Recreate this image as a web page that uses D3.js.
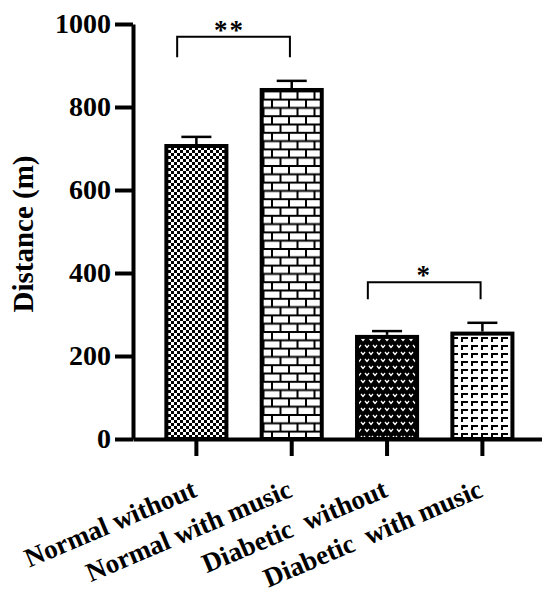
<!DOCTYPE html>
<html lang="en">
<head>
<meta charset="UTF-8">
<title>Distance bar chart</title>
<style>
  body { margin: 0; padding: 0; background: #fff; }
  svg { display: block; }
  svg text { font-family: 'Liberation Serif', 'Times New Roman', Times, 'DejaVu Serif', serif; font-weight: bold; fill: #000; }
</style>
</head>
<body>
<div id="chart"></div>
<script src="https://d3js.org/d3.v7.min.js"></script>
<script>
// values
const groups = ["Normal without", "Normal with music", "Diabetic  without", "Diabetic  with music"];
const means = [706, 841, 246, 254];
const errors = [22, 22, 14, 26];
const yTicks = [0, 200, 400, 600, 800, 1000];
// significance brackets: [from, to, bracket height, leg end, label]
const comparisons = [
    [0, 1, 969, 920, "**"],
    [2, 3, 378, 337, "*"]
];

const width = 542, height = 596;
const serif = "'Liberation Serif', 'Times New Roman', Times, 'DejaVu Serif', serif";

const svg = d3.select("#chart").append("svg")
    .attr("width", width)
    .attr("height", height);

const y = d3.scaleLinear().domain([0, 1000]).range([439, 24]);
const x = d3.scaleBand().domain(groups).range([133, 542])
    .paddingInner(0.37).paddingOuter(0.33).align(0.53);
const bw = x.bandwidth();

// fill patterns, one per bar
const defs = svg.append("defs");

const checker = defs.append("pattern").attr("id", "p0")
    .attr("patternUnits", "userSpaceOnUse").attr("width", 6).attr("height", 6);
checker.append("rect").attr("width", 6).attr("height", 6).attr("fill", "#fff");
checker.append("rect").attr("width", 3).attr("height", 3).attr("fill", "#000");
checker.append("rect").attr("x", 3).attr("y", 3).attr("width", 3).attr("height", 3).attr("fill", "#000");

const brick = defs.append("pattern").attr("id", "p1")
    .attr("patternUnits", "userSpaceOnUse").attr("width", 17).attr("height", 16.6);
brick.append("rect").attr("width", 17).attr("height", 16.6).attr("fill", "#000");
brick.append("rect").attr("x", 1).attr("y", 1).attr("width", 15).attr("height", 6.3).attr("fill", "#fff");
brick.append("rect").attr("x", -7.5).attr("y", 9.3).attr("width", 15).attr("height", 6.3).attr("fill", "#fff");
brick.append("rect").attr("x", 9.5).attr("y", 9.3).attr("width", 15).attr("height", 6.3).attr("fill", "#fff");

const vee = defs.append("pattern").attr("id", "p2")
    .attr("patternUnits", "userSpaceOnUse").attr("width", 8).attr("height", 14);
vee.append("rect").attr("width", 8).attr("height", 14).attr("fill", "#000");
vee.append("path").attr("d", "M1,2 L3,4.5 L5,2 M5,9 L7,11.5 L9,9 M-3,9 L-1,11.5 L1,9")
    .attr("fill", "none").attr("stroke", "#fff").attr("stroke-width", 1.3);

const corner = defs.append("pattern").attr("id", "p3")
    .attr("patternUnits", "userSpaceOnUse").attr("width", 10).attr("height", 8);
corner.append("rect").attr("width", 10).attr("height", 8).attr("fill", "#fff");
corner.append("path").attr("d", "M2,6 V2 H8")
    .attr("fill", "none").attr("stroke", "#000").attr("stroke-width", 2);

// bars
svg.append("g").selectAll("rect")
    .data(groups)
    .join("rect")
    .attr("x", d => x(d))
    .attr("y", (d, i) => y(means[i]))
    .attr("width", bw)
    .attr("height", (d, i) => y(0) - y(means[i]))
    .attr("fill", (d, i) => `url(#p${i})`)
    .attr("stroke", "#000")
    .attr("stroke-width", 4);

// error bars (upper only)
const err = svg.append("g").attr("stroke", "#000").attr("stroke-width", 2.5);
groups.forEach((g, i) => {
    const cx = x(g) + bw / 2;
    err.append("line")
        .attr("x1", cx).attr("x2", cx)
        .attr("y1", y(means[i]) - 2).attr("y2", y(means[i] + errors[i]));
    err.append("line")
        .attr("x1", cx - bw / 4).attr("x2", cx + bw / 4)
        .attr("y1", y(means[i] + errors[i])).attr("y2", y(means[i] + errors[i]));
});

// y axis
const yAxis = svg.append("g")
    .attr("transform", "translate(133,0)")
    .call(d3.axisLeft(y).tickValues(yTicks).tickFormat(d3.format("d"))
        .tickSize(18).tickSizeOuter(0).tickPadding(4))
    .attr("font-family", serif);
yAxis.select(".domain").attr("stroke-width", 4);
yAxis.selectAll(".tick line").attr("stroke-width", 4);
yAxis.selectAll(".tick text")
    .style("font-family", serif)
    .style("font-weight", "bold")
    .style("font-size", "28px");

// x axis
const xAxis = svg.append("g")
    .attr("transform", "translate(0,439)")
    .call(d3.axisBottom(x).tickSize(17).tickSizeOuter(0).tickFormat(""));
xAxis.select(".domain").attr("stroke-width", 4);
xAxis.selectAll(".tick line").attr("stroke-width", 4);

// rotated category labels
svg.append("g").selectAll("text")
    .data(groups)
    .join("text")
    .attr("transform", d => `translate(${x(d) + bw / 2 + 2},496) rotate(-23)`)
    .attr("text-anchor", "end")
    .attr("xml:space", "preserve")
    .style("white-space", "pre")
    .style("font-family", serif)
    .style("font-size", "27px")
    .text(d => d);

// y axis title
svg.append("text")
    .attr("transform", "translate(33,234) rotate(-90)")
    .attr("text-anchor", "middle")
    .style("font-family", serif)
    .style("font-size", "29px")
    .text("Distance (m)");

// significance brackets
comparisons.forEach(([a, b, top, leg, label]) => {
    const x1 = x(groups[a]) + bw * 0.18;
    const x2 = x(groups[b]) + bw * 0.47;
    svg.append("path")
        .attr("d", `M${x1},${y(leg)} V${y(top)} H${x2} V${y(leg)}`)
        .attr("fill", "none")
        .attr("stroke", "#000")
        .attr("stroke-width", 2);
    svg.append("text")
        .attr("x", (x1 + x2) / 2 - (label.length - 1) * 4)
        .attr("y", y(top) + 2)
        .attr("text-anchor", "middle")
        .style("font-family", serif)
        .style("font-size", "27px")
        .style("letter-spacing", "2px")
        .text(label);
});
</script>
</body>
</html>
